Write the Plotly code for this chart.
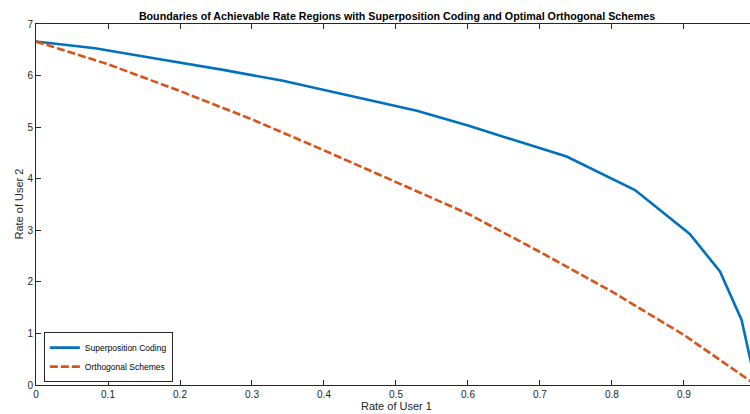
import plotly.graph_objects as go

sc_x = [0, 0.082, 0.17, 0.26, 0.343, 0.43, 0.529, 0.6, 0.672, 0.737, 0.832, 0.908, 0.95, 0.98, 1.0]
sc_y = [6.66, 6.53, 6.32, 6.11, 5.90, 5.63, 5.32, 5.03, 4.72, 4.43, 3.78, 2.93, 2.20, 1.26, 0.0]

orth_x = [0, 0.1, 0.2, 0.3, 0.4, 0.5, 0.6, 0.7, 0.8, 0.9, 1.0]
orth_y = [6.66, 6.22, 5.70, 5.15, 4.55, 3.94, 3.32, 2.58, 1.81, 0.97, 0.0]

x_ticks = [0, 0.1, 0.2, 0.3, 0.4, 0.5, 0.6, 0.7, 0.8, 0.9]
y_ticks = [0, 1, 2, 3, 4, 5, 6, 7]

font_family = "Liberation Sans, Arial, sans-serif"
axis_color = "#262626"

fig = go.Figure()
fig.add_trace(go.Scatter(x=sc_x, y=sc_y, mode="lines", name="Superposition Coding",
                         line=dict(color="#0072BD", width=2.6)))
fig.add_trace(go.Scatter(x=orth_x, y=orth_y, mode="lines", name="Orthogonal Schemes",
                         line=dict(color="#D95319", width=2.6, dash="8px,3px")))

plot_h = 414 - 24 - 29
plot_w = 750 - 36

fig.update_layout(
    width=750, height=414,
    margin=dict(l=36, r=0, t=24, b=29, autoexpand=False),
    plot_bgcolor="white", paper_bgcolor="white",
    font=dict(family=font_family, size=10, color=axis_color),
    title=dict(text="<b>Boundaries of Achievable Rate Regions with Superposition Coding and Optimal Orthogonal Schemes</b>",
               x=0.5056, xref="paper", xanchor="center", y=1 - 16 / 414, yref="container", yanchor="middle",
               font=dict(size=10.7, color="#000000", family=font_family), automargin=False),
    showlegend=True,
    legend=dict(x=0.011, y=0.008, xanchor="left", yanchor="bottom",
                bgcolor="white", bordercolor=axis_color, borderwidth=1,
                font=dict(size=8.5, color="#000000", family=font_family),
                tracegroupgap=0, itemwidth=30),
    annotations=[
        dict(text="Rate of User 1", xref="paper", x=0.5056, xanchor="center",
             yref="paper", y=-(406 - 385) / plot_h, yanchor="middle", showarrow=False,
             font=dict(size=11, color=axis_color)),
        dict(text="Rate of User 2", xref="paper", x=-(36 - 18) / plot_w, xanchor="center",
             yref="paper", y=(385 - 204.5) / plot_h, yanchor="middle", textangle=-90, showarrow=False,
             font=dict(size=11, color=axis_color)),
    ],
)

fig.update_xaxes(range=[0, 0.9917], tickvals=x_ticks, ticktext=[f"{v:g}" for v in x_ticks],
                 ticks="inside", ticklen=5, tickcolor=axis_color, showline=True, linecolor=axis_color,
                 linewidth=1, mirror="ticks", showgrid=False, zeroline=False, automargin=False,
                 tickfont=dict(size=10))
fig.update_yaxes(range=[0, 7], tickvals=y_ticks, ticks="inside", ticklen=5, tickcolor=axis_color,
                 showline=True, linecolor=axis_color, linewidth=1, mirror=False, showgrid=False,
                 zeroline=False, automargin=False, tickfont=dict(size=10))

fig.write_html("out.html", config={"displayModeBar": False},
               post_script="document.body.style.margin='0';document.body.style.overflow='hidden';")
